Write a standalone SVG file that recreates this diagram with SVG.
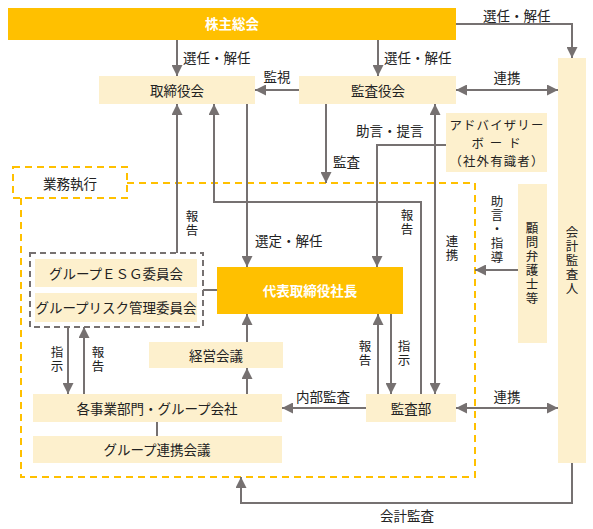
<svg xmlns="http://www.w3.org/2000/svg" width="593" height="529" viewBox="0 0 593 529">
<style>
text{font-family:"Noto Sans CJK JP","Noto Sans",sans-serif;font-size:13.5px;fill:#222;dominant-baseline:central}
.c{text-anchor:middle}
.v{font-size:12.5px;writing-mode:vertical-rl;text-anchor:middle;letter-spacing:1.5px}
.ad{font-size:12.4px;letter-spacing:1.2px;text-anchor:middle}
.w{fill:#fff;font-weight:bold}
.gold{fill:#FFC000}
.lt{fill:#FDF0CD}
.ln{fill:none;stroke:#767171;stroke-width:2}
.od{fill:none;stroke:#FFC000;stroke-width:2;stroke-dasharray:7,5}
.gd{fill:none;stroke:#767171;stroke-width:2;stroke-dasharray:6,4}
</style>
<defs>
<marker id="ah" markerUnits="userSpaceOnUse" markerWidth="11" markerHeight="11" refX="10" refY="5" orient="auto-start-reverse" viewBox="0 0 10 10">
<path d="M0,0 L10,5 L0,10 z" fill="#767171"/>
</marker>
</defs>

<g id="gyomu">
<rect x="13" y="167" width="114" height="31" class="od" fill="#fff"/>
<path d="M127,183 H475 V477 H21 V198" class="od"/>
<text x="70" y="183" class="c">業務執行</text>
</g>

<g id="kabunushi"><rect x="8" y="8" width="448" height="32" class="gold"/><text x="232" y="23" class="c w">株主総会</text></g>
<g id="torishimari"><rect x="99" y="76" width="156" height="28" class="lt"/><text x="177" y="90" class="c">取締役会</text></g>
<g id="kansayaku"><rect x="299" y="76" width="157" height="28" class="lt"/><text x="378" y="90" class="c">監査役会</text></g>
<g id="kaikei"><rect x="558" y="58" width="28" height="405" class="lt"/>
<text x="572" y="261" class="v">会計監査人</text></g>
<g id="advisory"><rect x="446" y="113" width="101" height="59" class="lt"/>
<text x="497" y="125" class="ad">アドバイザリー</text>
<text x="499" y="143" class="ad" style="letter-spacing:6px">ボード</text>
<text x="497" y="161" class="ad">（社外有識者）</text></g>
<g id="komon"><rect x="518" y="184" width="29" height="159" class="lt"/>
<text x="532" y="264" class="v">顧問弁護士等</text></g>
<g id="iinkai">
<rect x="30" y="253" width="173" height="74" class="gd"/>
<rect x="35" y="259" width="162" height="28" class="lt"/><text x="116" y="273" class="c">グループＥＳＧ委員会</text>
<rect x="35" y="293" width="162" height="29" class="lt"/><text x="116" y="307" class="c">グループリスク管理委員会</text>
</g>
<g id="daihyo"><rect x="217" y="267" width="186" height="47" class="gold"/><text x="310" y="290" class="c w">代表取締役社長</text></g>
<g id="keiei"><rect x="149" y="342" width="134" height="26" class="lt"/><text x="216" y="355" class="c">経営会議</text></g>
<g id="jigyo"><rect x="33" y="394" width="249" height="28" class="lt"/><text x="157" y="408" class="c">各事業部門・グループ会社</text></g>
<g id="renkei"><rect x="33" y="436" width="249" height="27" class="lt"/><text x="157" y="449" class="c">グループ連携会議</text></g>
<g id="kansabu"><rect x="366" y="394" width="90" height="28" class="lt"/><text x="411" y="408" class="c">監査部</text></g>

<g id="connectors">
<path d="M177,40 V76" class="ln" marker-end="url(#ah)"/>
<path d="M378,40 V76" class="ln" marker-end="url(#ah)"/>
<path d="M456,24 H572 V58" class="ln" marker-end="url(#ah)"/>
<path d="M299,90 H255" class="ln" marker-end="url(#ah)"/>
<path d="M456,90 H558" class="ln" marker-start="url(#ah)" marker-end="url(#ah)"/>
<path d="M177,253 V104" class="ln" marker-end="url(#ah)"/>
<path d="M421,394 V202 H214 V104" class="ln" marker-end="url(#ah)"/>
<path d="M247,104 V267" class="ln" marker-end="url(#ah)"/>
<path d="M326,104 V183" class="ln" marker-end="url(#ah)"/>
<path d="M435,394 V104" class="ln" marker-start="url(#ah)" marker-end="url(#ah)"/>
<path d="M446,145 H377 V267" class="ln" marker-end="url(#ah)"/>
<path d="M518,270 H475" class="ln" marker-end="url(#ah)"/>
<path d="M203,290 H217" class="ln"/>
<path d="M378,394 V314" class="ln" marker-end="url(#ah)"/>
<path d="M391,314 V394" class="ln" marker-end="url(#ah)"/>
<path d="M366,408 H282" class="ln" marker-end="url(#ah)"/>
<path d="M456,408 H558" class="ln" marker-start="url(#ah)" marker-end="url(#ah)"/>
<path d="M247,394 V368" class="ln" marker-end="url(#ah)"/>
<path d="M247,342 V314" class="ln" marker-end="url(#ah)"/>
<path d="M68,327 V394" class="ln" marker-end="url(#ah)"/>
<path d="M84,394 V327" class="ln" marker-end="url(#ah)"/>
<path d="M157,422 V436" class="ln"/>
<path d="M572,463 V503 H241 V477" class="ln" marker-end="url(#ah)"/>
</g>

<g id="labels">
<text x="183" y="57">選任・解任</text>
<text x="384" y="57">選任・解任</text>
<text x="483" y="15">選任・解任</text>
<text x="277" y="76" class="c">監視</text>
<text x="507" y="77" class="c">連携</text>
<text x="356" y="130">助言・提言</text>
<text x="333" y="161">監査</text>
<text x="192" y="224" class="v">報告</text>
<text x="255" y="240">選定・解任</text>
<text x="407" y="223" class="v">報告</text>
<text x="452" y="249" class="v">連携</text>
<text x="497" y="230" class="v">助言・指導</text>
<text x="365" y="354" class="v">報告</text>
<text x="404" y="354" class="v">指示</text>
<text x="57" y="360" class="v">指示</text>
<text x="98" y="360" class="v">報告</text>
<text x="323" y="396" class="c">内部監査</text>
<text x="507" y="396" class="c">連携</text>
<text x="407" y="515" class="c">会計監査</text>
</g>
</svg>
